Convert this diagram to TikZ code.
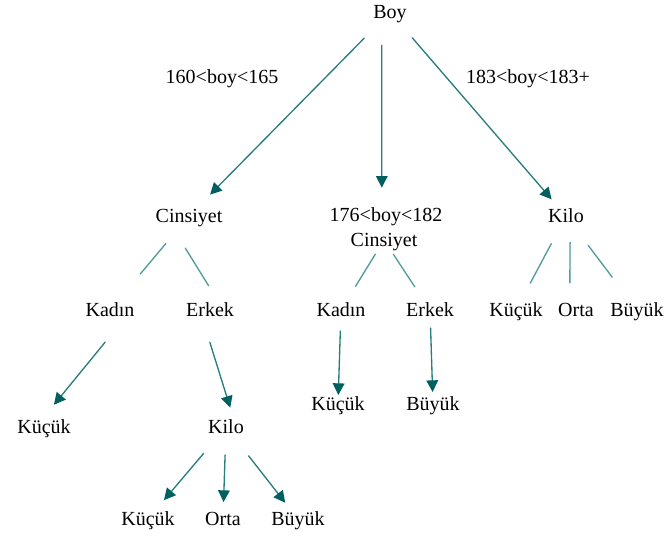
\documentclass[tikz,border=0pt]{standalone}
\usepackage{fontspec}
\setmainfont{Liberation Serif}
\usetikzlibrary{arrows.meta}
\definecolor{tealline}{RGB}{40,125,125}
\definecolor{tealhead}{RGB}{0,96,96}
\definecolor{teallight}{RGB}{80,155,155}

\begin{document}
\begin{tikzpicture}[x=0.6pt, y=-0.6pt, line cap=round,
    lbl/.style={inner sep=0pt, text height=8pt, text depth=0pt, font=\fontsize{12}{14}\selectfont},
    arr/.style={draw=tealline, line width=0.8pt, -{Triangle[length=7pt,width=7pt,color=tealhead]}},
    ln/.style={draw=teallight, line width=0.8pt}]
  \useasboundingbox (0,0) rectangle (666,538);
  % top level
  \node[lbl] (boy) at (390,12) {Boy};
  \node[lbl] (lab1) at (222,77) {160<boy<165};
  \node[lbl] (lab3) at (528,77) {183<boy<183+};
  \node[lbl] (cinsL) at (189,216) {Cinsiyet};
  \node[lbl] (lab2) at (386,215) {176<boy<182};
  \node[lbl] (cinsM) at (384,240) {Cinsiyet};
  \node[lbl] (kiloR) at (566,216) {Kilo};
  % second level
  \node[lbl] (kadL) at (110,310) {Kadın};
  \node[lbl] (erkL) at (210,310) {Erkek};
  \node[lbl] (kadM) at (341,310) {Kadın};
  \node[lbl] (erkM) at (430,310) {Erkek};
  \node[lbl] (kucR) at (516,310) {Küçük};
  \node[lbl] (ortR) at (576,310) {Orta};
  \node[lbl] (buyR) at (637,310) {Büyük};
  % third level
  \node[lbl] (kucL) at (44,427) {Küçük};
  \node[lbl] (kiloL) at (226,427) {Kilo};
  \node[lbl] (kucM) at (338,404) {Küçük};
  \node[lbl] (buyM) at (433,404) {Büyük};
  \node[lbl] (kucB) at (148,519) {Küçük};
  \node[lbl] (ortB) at (223,519) {Orta};
  \node[lbl] (buyB) at (298,519) {Büyük};
  % connectors
  \draw[arr, shorten <=22pt, shorten >=18pt] (boy.center) -- (cinsL.center);
  \draw[arr, shorten <=15.8pt, shorten >=12.2pt] (boy.-140) -- (lab2.121);
  \draw[arr, shorten <=20.4pt, shorten >=13.2pt] (boy.center) -- (kiloR.center);
  \draw[ln, shorten <=21.6pt, shorten >=28.2pt] (cinsL.center) -- (kadL.center);
  \draw[ln, shorten <=17.7pt, shorten >=12.1pt] (cinsL.200) -- (erkL.37);
  \draw[ln, shorten <=10pt, shorten >=16.7pt] (cinsM.center) -- (kadM.center);
  \draw[ln, shorten <=10.3pt, shorten >=16.6pt] (cinsM.center) -- (erkM.center);
  \draw[ln, shorten <=18.8pt, shorten >=18.3pt] (kiloR.center) -- (kucR.center);
  \draw[ln, shorten <=11.6pt, shorten >=12.2pt] (kiloR.-59) -- (ortR.132);
  \draw[ln, shorten <=22pt, shorten >=24.7pt] (kiloR.center) -- (buyR.center);
  \draw[arr, shorten <=19.5pt, shorten >=11.8pt] (kadL.-24) -- (kucL.110);
  \draw[arr, shorten <=15.9pt, shorten >=7.7pt] (erkL.-139) -- (kiloL.41);
  \draw[arr, shorten <=12.6pt, shorten >=5.4pt] (kadM.center) -- (kucM.center);
  \draw[arr, shorten <=10.8pt, shorten >=7.2pt] (erkM.center) -- (buyM.center);
  \draw[arr, shorten <=20.8pt, shorten >=14.8pt] (kiloL.center) -- (kucB.center);
  \draw[arr, shorten <=16.8pt, shorten >=10.2pt] (kiloL.center) -- (ortB.center);
  \draw[arr, shorten <=22pt, shorten >=12.4pt] (kiloL.center) -- (buyB.center);
\end{tikzpicture}
\end{document}
